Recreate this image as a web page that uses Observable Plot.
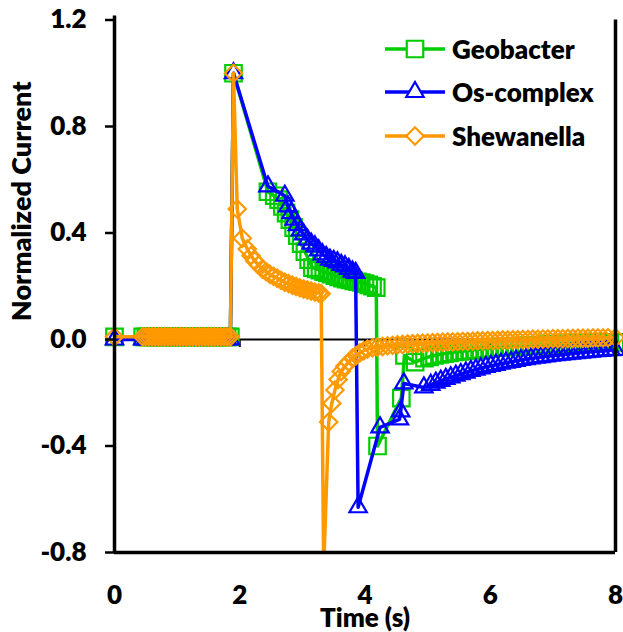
<!DOCTYPE html>
<html><head><meta charset="utf-8">
<script src="https://cdn.jsdelivr.net/npm/d3@7"></script>
<script src="https://cdn.jsdelivr.net/npm/@observablehq/plot@0.6"></script>
<style>
body{margin:0;background:#fff;}
#wrap{position:relative;width:623px;height:632px;font-family:Lato,sans-serif;font-weight:800;color:#000;}
#legend{position:absolute;left:385px;top:27px;}
.row{display:flex;align-items:center;height:43.5px;}
.row span{font-size:26px;margin-left:7px;line-height:1;}
.row svg{overflow:visible;}
</style></head><body>
<div id="wrap"><div id="chart"></div><div id="legend"></div></div>
<script>
// ---- data ----
const seriesNames = ["Geobacter", "Os-complex", "Shewanella"];
const seriesColors = ["#00cc00", "#0000ff", "#ff9900"];
const seriesSymbols = ["square2", "triangle2", "diamond2"];
const xTicks = [0, 2, 4, 6, 8];
const yTicks = [-0.8, -0.4, 0, 0.4, 0.8, 1.2];
const xLabel = "Time (s)";
const yLabel = "Normalized Current";

const baselineTime = [0, 0.45, 0.50, 0.55, 0.60, 0.65, 0.70, 0.75, 0.80, 0.85, 0.90, 0.95, 1.00, 1.05, 1.10, 1.15, 1.20, 1.25, 1.30, 1.35, 1.40, 1.45, 1.50, 1.55, 1.60, 1.65, 1.70, 1.75, 1.80, 1.85];
const geoBaseline = [0.01, 0.01, 0.01, 0.01, 0.01, 0.01, 0.01, 0.01, 0.01, 0.01, 0.01, 0.01, 0.01, 0.01, 0.01, 0.01, 0.01, 0.01, 0.01, 0.01, 0.01, 0.01, 0.01, 0.01, 0.01, 0.01, 0.01, 0.01, 0.01, 0.01];
const osBaseline = [0.0, 0.0, 0.0, 0.0, 0.0, 0.0, 0.0, 0.0, 0.0, 0.0, 0.0, 0.0, 0.0, 0.0, 0.0, 0.0, 0.0, 0.0, 0.0, 0.0, 0.0, 0.0, 0.0, 0.0, 0.0, 0.0, 0.0, 0.0, 0.0, 0.0];
const shewBaseline = [0.01, 0.01, 0.01, 0.01, 0.01, 0.01, 0.01, 0.01, 0.01, 0.01, 0.01, 0.01, 0.01, 0.01, 0.01, 0.01, 0.01, 0.01, 0.01, 0.01, 0.01, 0.01, 0.01, 0.01, 0.01, 0.01, 0.01, 0.01, 0.01, 0.01];

const geoStepTime = [1.90, 2.45, 2.55, 2.62, 2.68, 2.74, 2.80, 2.86, 2.92, 2.98, 3.04, 3.10, 3.16, 3.22, 3.28, 3.34, 3.40, 3.46, 3.52, 3.58, 3.64, 3.70, 3.76, 3.82, 3.88, 3.94, 4.00, 4.06, 4.12, 4.18, 4.20, 4.58, 4.63, 4.80];
const geoStepCurrent = [1.00, 0.555, 0.54, 0.525, 0.50, 0.475, 0.45, 0.42, 0.39, 0.36, 0.33, 0.30, 0.27, 0.265, 0.26, 0.255, 0.25, 0.245, 0.24, 0.235, 0.23, 0.227, 0.224, 0.22, 0.217, 0.214, 0.21, 0.205, 0.20, 0.195, -0.40, -0.22, -0.06, -0.085];
const geoTailTime = [4.95, 5.03, 5.11, 5.19, 5.27, 5.35, 5.43, 5.51, 5.59, 5.67, 5.75, 5.83, 5.91, 5.99, 6.07, 6.15, 6.23, 6.31, 6.39, 6.47, 6.55, 6.63, 6.71, 6.79, 6.87, 6.95, 7.03, 7.11, 7.19, 7.27, 7.35, 7.43, 7.51, 7.59, 7.67, 7.75, 7.83, 7.91, 7.99];
const geoTailCurrent = [-0.07, -0.065, -0.06, -0.056, -0.053, -0.05, -0.047, -0.045, -0.043, -0.041, -0.039, -0.037, -0.035, -0.033, -0.031, -0.03, -0.029, -0.027, -0.026, -0.025, -0.024, -0.023, -0.022, -0.021, -0.02, -0.019, -0.018, -0.017, -0.017, -0.016, -0.015, -0.015, -0.014, -0.013, -0.013, -0.012, -0.012, -0.011, -0.011];

const osStepTime = [1.90, 2.45, 2.72, 2.77, 2.82, 2.87, 2.92, 2.97, 3.02, 3.08, 3.14, 3.20, 3.26, 3.32, 3.38, 3.44, 3.50, 3.56, 3.62, 3.68, 3.74, 3.80, 3.85, 3.89, 4.24, 4.55, 4.57, 4.62, 4.94, 5.05];
const osStepCurrent = [1.00, 0.575, 0.54, 0.50, 0.475, 0.45, 0.43, 0.41, 0.395, 0.375, 0.36, 0.35, 0.335, 0.32, 0.31, 0.30, 0.295, 0.29, 0.28, 0.275, 0.265, 0.255, 0.25, -0.63, -0.33, -0.30, -0.27, -0.165, -0.18, -0.17];
const osTailTime = [5.13, 5.21, 5.29, 5.37, 5.45, 5.53, 5.61, 5.69, 5.77, 5.85, 5.93, 6.01, 6.09, 6.17, 6.25, 6.33, 6.41, 6.49, 6.57, 6.65, 6.73, 6.81, 6.89, 6.97, 7.05, 7.13, 7.21, 7.29, 7.37, 7.45, 7.53, 7.61, 7.69, 7.77, 7.85, 7.93, 8.00];
const osTailCurrent = [-0.162, -0.155, -0.148, -0.142, -0.136, -0.13, -0.124, -0.118, -0.113, -0.108, -0.103, -0.099, -0.095, -0.091, -0.087, -0.084, -0.08, -0.077, -0.074, -0.071, -0.068, -0.066, -0.063, -0.061, -0.059, -0.057, -0.055, -0.053, -0.051, -0.049, -0.047, -0.046, -0.044, -0.043, -0.041, -0.04, -0.039];

const shewStepTime = [1.90, 1.96, 2.04, 2.12, 2.18, 2.24, 2.30, 2.36, 2.42, 2.48, 2.54, 2.60, 2.66, 2.72, 2.78, 2.84, 2.90, 2.96, 3.02, 3.08, 3.14, 3.20, 3.26, 3.30, 3.34, 3.42, 3.47, 3.52, 3.57, 3.62, 3.68, 3.74, 3.80, 3.86, 3.92, 3.98, 4.04];
const shewStepCurrent = [1.00, 0.49, 0.38, 0.34, 0.315, 0.295, 0.28, 0.265, 0.255, 0.245, 0.237, 0.23, 0.222, 0.215, 0.21, 0.204, 0.199, 0.194, 0.19, 0.186, 0.182, 0.178, 0.175, 0.172, -0.86, -0.31, -0.24, -0.19, -0.15, -0.12, -0.10, -0.085, -0.07, -0.06, -0.05, -0.042, -0.036];
const shewTailTime = [4.12, 4.20, 4.28, 4.36, 4.44, 4.52, 4.60, 4.68, 4.76, 4.84, 4.92, 5.00, 5.08, 5.16, 5.24, 5.32, 5.40, 5.48, 5.56, 5.64, 5.72, 5.80, 5.88, 5.96, 6.04, 6.12, 6.20, 6.28, 6.36, 6.44, 6.52, 6.60, 6.68, 6.76, 6.84, 6.92, 7.00, 7.08, 7.16, 7.24, 7.32, 7.40, 7.48, 7.56, 7.64, 7.72, 7.80, 7.88, 8.00];
const shewTailCurrent = [-0.031, -0.028, -0.026, -0.024, -0.022, -0.02, -0.019, -0.017, -0.016, -0.015, -0.014, -0.013, -0.012, -0.011, -0.01, -0.009, -0.009, -0.008, -0.007, -0.007, -0.006, -0.005, -0.005, -0.004, -0.004, -0.003, -0.002, -0.002, -0.001, -0.001, 0.0, 0.0, 0.001, 0.001, 0.002, 0.002, 0.003, 0.003, 0.003, 0.004, 0.004, 0.005, 0.005, 0.005, 0.006, 0.006, 0.006, 0.007, 0.007];

const geoTime = baselineTime.concat(geoStepTime, geoTailTime);
const geoCurrent = geoBaseline.concat(geoStepCurrent, geoTailCurrent);
const osTime = baselineTime.concat(osStepTime, osTailTime);
const osCurrent = osBaseline.concat(osStepCurrent, osTailCurrent);
const shewTime = baselineTime.concat(shewStepTime, shewTailTime);
const shewCurrent = shewBaseline.concat(shewStepCurrent, shewTailCurrent);

// ---- build ----
const allTimes = [geoTime, osTime, shewTime];
const allCurrents = [geoCurrent, osCurrent, shewCurrent];
const radii = [10.5, 8.3, 7.8];
const seriesRows = allTimes.map((ts, k) => ts.map((t, i) => ({series: seriesNames[k], time: t, current: allCurrents[k][i]})));
const yMin = yTicks[0];

const font = {fontSize: 26, fontWeight: 800};
const marks = [
  Plot.ruleY([0], {stroke: "#000", strokeWidth: 2}),
  Plot.ruleX(xTicks.filter(d => d > 0), {y1: 0, y2: 0, insetBottom: -8, stroke: "#000", strokeWidth: 2}),
];
seriesRows.forEach((rows, k) => {
  marks.push(Plot.line(rows, {x: "time", y: "current", stroke: seriesColors[k], strokeWidth: 3.5, strokeLinejoin: "round", clip: true}));
  marks.push(Plot.dot(rows.filter(d => d.current >= yMin), {x: "time", y: "current", symbol: seriesSymbols[k], r: radii[k], stroke: seriesColors[k], strokeWidth: 2.2, fill: "none"}));
});
marks.push(
  Plot.ruleX([xTicks[0]], {stroke: "#000", strokeWidth: 3.5, insetTop: -4}),
  Plot.ruleX([xTicks[xTicks.length - 1]], {stroke: "#000", strokeWidth: 3.5}),
  Plot.ruleY([yMin], {stroke: "#000", strokeWidth: 3.5}),
  Plot.axisY(yTicks, {tickSize: 9, tickPadding: 19, strokeWidth: 2.5, tickFormat: d => d.toFixed(1), label: null, ...font}),
  Plot.axisX(xTicks, {tickSize: 0, tickPadding: 33, tickFormat: d => String(d), label: null, ...font}),
  Plot.text([yLabel], {frameAnchor: "left", rotate: -90, dx: -92, dy: -85, textAnchor: "middle", lineAnchor: "middle", fontSize: 27, fontWeight: 800}),
  Plot.text([xLabel], {frameAnchor: "bottom", dy: 66, textAnchor: "middle", lineAnchor: "middle", fontSize: 26, fontWeight: 800})
);

const chart = Plot.plot({
  width: 623,
  height: 632,
  marginLeft: 114,
  marginRight: 8,
  marginTop: 19.5,
  marginBottom: 80,
  x: {domain: [0, 8]},
  y: {domain: [-0.8, 1.2]},
  style: {fontFamily: "Lato, sans-serif", fontWeight: 800, fontSize: "26px", color: "#000", background: "#fff", overflow: "visible"},
  marks
});
document.getElementById("chart").appendChild(chart);

// ---- legend ----
const symbolTypes = {square2: d3.symbolSquare2, triangle2: d3.symbolTriangle2, diamond2: d3.symbolDiamond2};
const legend = d3.select("#legend");
seriesNames.forEach((name, k) => {
  const row = legend.append("div").attr("class", "row");
  const svg = row.append("svg").attr("width", 60).attr("height", 24);
  svg.append("line").attr("x1", 0).attr("x2", 60).attr("y1", 12).attr("y2", 12)
    .attr("stroke", seriesColors[k]).attr("stroke-width", 3.5);
  svg.append("path").attr("transform", "translate(30,12)")
    .attr("d", d3.symbol(symbolTypes[seriesSymbols[k]], radii[k] * radii[k] * Math.PI)())
    .attr("fill", "#fff").attr("stroke", seriesColors[k]).attr("stroke-width", 2.2);
  row.append("span").text(name);
});
</script>
</body></html>
